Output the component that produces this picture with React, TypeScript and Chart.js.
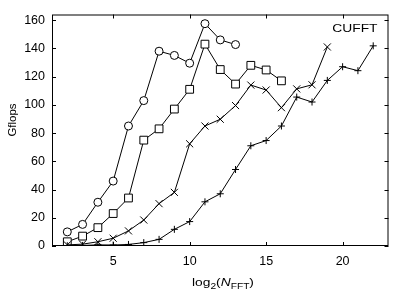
import React, { useEffect, useRef } from "react";
import { Chart, registerables } from "chart.js";

Chart.register(...registerables);

// log2(N_FFT) values for each series start at 2
const circleY = [10, 15.3, 31, 46, 85, 103, 138, 135, 129.5, 157.5, 146, 142.7];
const squareY = [3, 7, 13, 23, 34, 75, 83, 97, 111, 143, 125, 114.7, 128, 124.7, 117];
const crossY = [0.8, 1.3, 3, 5.5, 10.7, 18.4, 30, 38, 72.4, 85, 89.8, 99.5, 114, 110.5, 98, 111.3, 114.2, 141];
const plusY = [0.2, 0.4, 0.8, 0.7, 1.1, 2.4, 4.7, 11.8, 17.3, 31.3, 37, 54.2, 71, 74.7, 85, 105.5, 102, 117.3, 127, 124.2, 141.8];
const xStart = 2;
const xTicks = [5, 10, 15, 20];
const yTicks = [0, 20, 40, 60, 80, 100, 120, 140, 160];
const label = "CUFFT";

const FONT = '"Liberation Sans", Arial, Helvetica, sans-serif';
const STRETCH = 1.2;

const toPoints = (ys: number[]) => ys.map((y, i) => ({ x: xStart + i, y }));

const framePlugin = {
  id: "frame",
  afterDraw(chart: any) {
    const { ctx, chartArea, scales } = chart;
    const { left, right, top, bottom } = chartArea;
    const xs = scales.x;
    const ys = scales.y;
    ctx.save();
    ctx.strokeStyle = "#000";
    ctx.lineWidth = 1;
    ctx.strokeRect(left + 0.5, top + 0.5, right - left - 1, bottom - top - 1);
    const tl = 4;
    ctx.beginPath();
    xTicks.forEach((v) => {
      const px = Math.round(xs.getPixelForValue(v)) + 0.5;
      ctx.moveTo(px, bottom);
      ctx.lineTo(px, bottom - tl);
      ctx.moveTo(px, top);
      ctx.lineTo(px, top + tl);
    });
    yTicks.forEach((v) => {
      const py = Math.round(ys.getPixelForValue(v)) + 0.5;
      ctx.moveTo(left, py);
      ctx.lineTo(left + tl, py);
      ctx.moveTo(right, py);
      ctx.lineTo(right - tl, py);
    });
    ctx.stroke();

    ctx.fillStyle = "#000";
    // CUFFT label (right edge at right - 11)
    ctx.save();
    ctx.font = `11.5px ${FONT}`;
    ctx.textAlign = "right";
    ctx.textBaseline = "alphabetic";
    ctx.translate(right - 11, top + 17.5);
    ctx.scale(STRETCH, 1);
    ctx.fillText(label, 0, 0);
    ctx.restore();

    // Y title
    ctx.save();
    ctx.translate(13, 120);
    ctx.rotate(-Math.PI / 2);
    ctx.font = `11.5px ${FONT}`;
    ctx.textAlign = "center";
    ctx.textBaseline = "middle";
    ctx.fillText("Gflops", 0, 0);
    ctx.restore();

    // X title: log2(N_FFT)
    const parts = [
      { t: "log", f: `11.5px ${FONT}`, dy: 0 },
      { t: "2", f: `8.5px ${FONT}`, dy: 3 },
      { t: "(", f: `11.5px ${FONT}`, dy: 0 },
      { t: "N", f: `italic 11.5px ${FONT}`, dy: 0 },
      { t: "FFT", f: `8.5px ${FONT}`, dy: 3 },
      { t: ")", f: `11.5px ${FONT}`, dy: 0 },
    ];
    let total = 0;
    const widths = parts.map((p) => {
      ctx.font = p.f;
      const w = ctx.measureText(p.t).width;
      total += w;
      return w;
    });
    ctx.save();
    ctx.translate(223, 285.5);
    ctx.scale(STRETCH, 1);
    let cx = -total / 2;
    ctx.textAlign = "left";
    ctx.textBaseline = "alphabetic";
    parts.forEach((p, i) => {
      ctx.font = p.f;
      ctx.fillText(p.t, cx, p.dy);
      cx += widths[i];
    });
    ctx.restore();
    ctx.restore();
  },
};

export default function App() {
  const ref = useRef<HTMLCanvasElement | null>(null);
  useEffect(() => {
    document.body.style.margin = "0";
    if (!ref.current) return;
    const common = {
      borderColor: "#000",
      borderWidth: 1,
      pointBorderColor: "#000",
      pointBackgroundColor: "#fff",
      pointBorderWidth: 1,
      showLine: true,
      fill: false,
      tension: 0,
    };
    const chart = new Chart(ref.current, {
      type: "scatter",
      data: {
        datasets: [
          { ...common, data: toPoints(plusY), pointStyle: "cross", pointRadius: 3.5 },
          { ...common, data: toPoints(crossY), pointStyle: "crossRot", pointRadius: 5 },
          { ...common, data: toPoints(squareY), pointStyle: "rect", pointRadius: 5.5 },
          { ...common, data: toPoints(circleY), pointStyle: "circle", pointRadius: 4 },
        ],
      },
      options: {
        animation: false,
        responsive: false,
        devicePixelRatio: 1,
        layout: { padding: { top: 1, right: 2, left: 0, bottom: 0 } },
        plugins: {
          legend: { display: false },
          tooltip: { enabled: false },
        },
        scales: {
          x: {
            type: "linear",
            min: 1,
            max: 23,
            grid: { display: false, drawTicks: false },
            border: { display: false },
            afterFit: (s: any) => {
              s.height = 44;
            },
            afterBuildTicks: (s: any) => {
              s.ticks = xTicks.map((v) => ({ value: v }));
            },
            ticks: {
              padding: 8,
              color: "#000",
              font: { family: FONT, size: 12.5 },
              maxRotation: 0,
              autoSkip: false,
            },
          },
          y: {
            type: "linear",
            min: 0,
            max: 164,
            grid: { display: false, drawTicks: false },
            border: { display: false },
            afterFit: (s: any) => {
              s.width = 52;
            },
            afterBuildTicks: (s: any) => {
              s.ticks = yTicks.map((v) => ({ value: v }));
            },
            ticks: {
              padding: 7,
              color: "#000",
              font: { family: FONT, size: 12.5 },
              autoSkip: false,
            },
          },
        },
      },
      plugins: [framePlugin],
    });
    return () => chart.destroy();
  }, []);
  return <canvas ref={ref} width={395} height={290} style={{ display: "block" }} />;
}
